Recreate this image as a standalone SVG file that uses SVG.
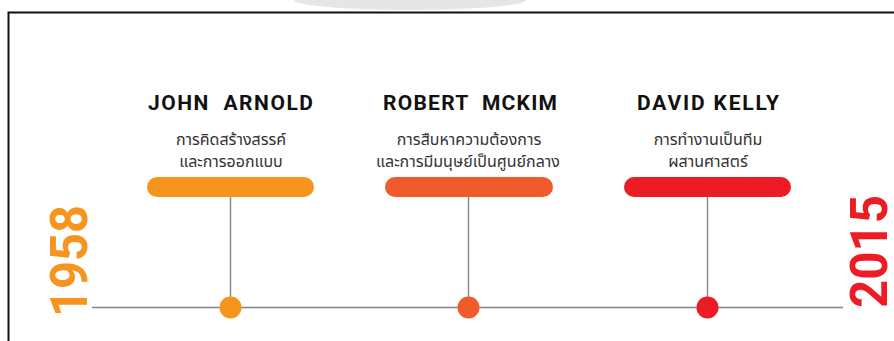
<svg xmlns="http://www.w3.org/2000/svg" width="894" height="341" viewBox="0 0 894 341">
<style>
.name{font-family:Roboto,"Liberation Sans",sans-serif;font-weight:700;font-size:21px;fill:#111;text-anchor:middle}
.desc{font-family:"Noto Sans Thai","Noto Sans","Loma","Tlwg Typo",sans-serif;font-size:16px;fill:#333;text-anchor:middle}
.year{font-family:Roboto,"Liberation Sans",sans-serif;font-weight:700;font-size:52px}
.conn{stroke:#858585;stroke-width:1.4;fill:none}
</style>
<rect x="0" y="0" width="894" height="341" fill="#fff"/>
<ellipse cx="410" cy="0" rx="116" ry="10" fill="#e6e6e6"/>
<path d="M8.5,341 V12.5 H894" fill="none" stroke="#111" stroke-width="2"/>
<g id="connectors">
<line class="conn" x1="92" y1="307.5" x2="843" y2="307.5"/>
<line class="conn" x1="230.5" y1="196" x2="230.5" y2="300"/>
<line class="conn" x1="468.5" y1="196" x2="468.5" y2="300"/>
<line class="conn" x1="707.5" y1="196" x2="707.5" y2="300"/>
</g>
<g id="year-1958"><text class="year" fill="#F7941D" transform="translate(87,317) rotate(-90)" textLength="112" lengthAdjust="spacingAndGlyphs">1958</text></g>
<g id="year-2015"><text class="year" fill="#ED1C24" transform="translate(887,308) rotate(-90)" textLength="113" lengthAdjust="spacingAndGlyphs">2015</text></g>
<g id="node-arnold">
<text class="name" x="230.5" y="110" textLength="165" xml:space="preserve">JOHN  ARNOLD</text>
<text class="desc" x="231" y="145">การคิดสร้างสรรค์</text>
<text class="desc" x="231" y="167">และการออกแบบ</text>
<rect x="147" y="177" width="167" height="20" rx="10" fill="#F7941D"/>
<circle cx="230.5" cy="307.5" r="11" fill="#F7941D"/>
</g>
<g id="node-mckim">
<text class="name" x="470" y="110" textLength="174" xml:space="preserve">ROBERT  MCKIM</text>
<text class="desc" x="469" y="145">การสืบหาความต้องการ</text>
<text class="desc" x="468" y="167">และการมีมนุษย์เป็นศูนย์กลาง</text>
<rect x="385" y="177" width="168" height="20" rx="10" fill="#F15A2B"/>
<circle cx="468.5" cy="307.5" r="11" fill="#F15A2B"/>
</g>
<g id="node-kelly">
<text class="name" x="708" y="110" textLength="142">DAVID KELLY</text>
<text class="desc" x="708" y="145">การทำงานเป็นทีม</text>
<text class="desc" x="708" y="167">ผสานศาสตร์</text>
<rect x="624" y="177" width="167" height="20" rx="10" fill="#ED1C24"/>
<circle cx="707.5" cy="307.5" r="11" fill="#ED1C24"/>
</g>
</svg>
